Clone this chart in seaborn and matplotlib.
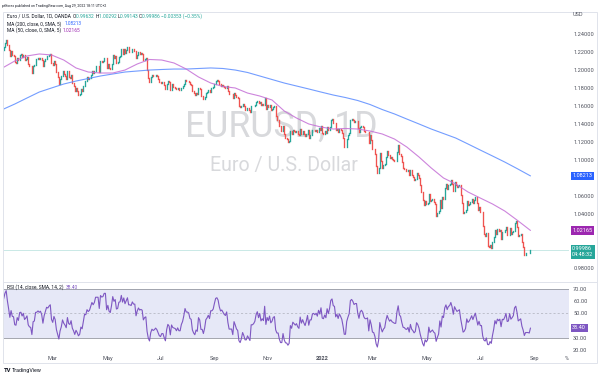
import numpy as np
import pandas as pd
import matplotlib
matplotlib.use("Agg")
import matplotlib.pyplot as plt
from matplotlib.lines import Line2D
from matplotlib.patches import Rectangle
import matplotlib.transforms as mtrans
import seaborn as sns

# ---------------- data (EUR/USD daily closes) ----------------
warmup_closes = [1.1925, 1.2070, 1.2115, 1.2145, 1.2120, 1.2105, 1.2105, 1.2080, 1.2135, 1.2110,
                 1.2145, 1.2150, 1.2195, 1.2270, 1.2255, 1.2240, 1.2150, 1.2185, 1.2185, 1.2215,
                 1.2250, 1.2295, 1.2215]
c2021_01 = [1.2214, 1.2249, 1.2298, 1.2326, 1.2270, 1.2219, 1.2152, 1.2207, 1.2158, 1.2155, 1.2080,
            1.2075, 1.2130, 1.2105, 1.2167, 1.2170, 1.2140, 1.2160, 1.2110, 1.2120, 1.2135]
c2021_02 = [1.2060, 1.2040, 1.2035, 1.1960, 1.2045, 1.2050, 1.2118, 1.2120, 1.2130, 1.2120, 1.2128,
            1.2105, 1.2040, 1.2090, 1.2120, 1.2155, 1.2150, 1.2165, 1.2175, 1.2075]
c2021_03 = [1.2050, 1.2090, 1.2065, 1.1970, 1.1915, 1.1845, 1.1900, 1.1930, 1.1985, 1.1950, 1.1930,
            1.1900, 1.1980, 1.1915, 1.1905, 1.1935, 1.1850, 1.1815, 1.1765, 1.1795, 1.1765, 1.1720, 1.1730]
c2021_04 = [1.1780, 1.1760, 1.1815, 1.1875, 1.1870, 1.1915, 1.1900, 1.1910, 1.1945, 1.1980, 1.1965,
            1.1985, 1.2035, 1.2035, 1.2035, 1.1970, 1.2095, 1.2085, 1.2090, 1.2125, 1.2125, 1.2020]
c2021_05 = [1.2060, 1.2015, 1.2005, 1.2065, 1.2165, 1.2130, 1.2150, 1.2075, 1.2080, 1.2145, 1.2150,
            1.2225, 1.2175, 1.2225, 1.2180, 1.2215, 1.2250, 1.2195, 1.2195, 1.2190, 1.2225]
c2021_06 = [1.2210, 1.2210, 1.2125, 1.2165, 1.2190, 1.2175, 1.2180, 1.2175, 1.2105, 1.2120, 1.2125,
            1.1995, 1.1905, 1.1860, 1.1915, 1.1940, 1.1925, 1.1930, 1.1940, 1.1925, 1.1895, 1.1860]
c2021_07 = [1.1850, 1.1865, 1.1865, 1.1825, 1.1790, 1.1845, 1.1875, 1.1860, 1.1775, 1.1835, 1.1810,
            1.1805, 1.1800, 1.1780, 1.1795, 1.1770, 1.1770, 1.1800, 1.1815, 1.1845, 1.1890, 1.1870]
c2021_08 = [1.1870, 1.1865, 1.1835, 1.1830, 1.1760, 1.1735, 1.1720, 1.1740, 1.1730, 1.1795, 1.1780,
            1.1710, 1.1710, 1.1675, 1.1700, 1.1745, 1.1755, 1.1770, 1.1750, 1.1795, 1.1795, 1.1805]
c2021_09 = [1.1840, 1.1875, 1.1880, 1.1870, 1.1840, 1.1820, 1.1825, 1.1815, 1.1805, 1.1800, 1.1815,
            1.1765, 1.1725, 1.1725, 1.1725, 1.1690, 1.1740, 1.1720, 1.1695, 1.1685, 1.1600, 1.1580]
c2021_10 = [1.1595, 1.1620, 1.1595, 1.1555, 1.1555, 1.1570, 1.1550, 1.1530, 1.1595, 1.1595, 1.1600,
            1.1610, 1.1640, 1.1655, 1.1625, 1.1645, 1.1605, 1.1615, 1.1605, 1.1680, 1.1560]
c2021_11 = [1.1605, 1.1580, 1.1610, 1.1555, 1.1565, 1.1590, 1.1595, 1.1480, 1.1445, 1.1445, 1.1370,
            1.1320, 1.1320, 1.1370, 1.1285, 1.1240, 1.1235, 1.1200, 1.1210, 1.1320, 1.1290, 1.1335]
c2021_12 = [1.1320, 1.1305, 1.1315, 1.1285, 1.1270, 1.1345, 1.1290, 1.1315, 1.1285, 1.1260, 1.1290,
            1.1330, 1.1240, 1.1280, 1.1280, 1.1325, 1.1330, 1.1320, 1.1330, 1.1310, 1.1350, 1.1325, 1.1370]
c2022_01 = [1.1295, 1.1290, 1.1315, 1.1295, 1.1360, 1.1325, 1.1365, 1.1440, 1.1455, 1.1410, 1.1405,
            1.1325, 1.1345, 1.1310, 1.1345, 1.1325, 1.1300, 1.1240, 1.1145, 1.1145, 1.1235]
c2022_02 = [1.1270, 1.1300, 1.1440, 1.1455, 1.1440, 1.1415, 1.1425, 1.1425, 1.1350, 1.1305, 1.1360,
            1.1375, 1.1360, 1.1320, 1.1305, 1.1305, 1.1310, 1.1190, 1.1270, 1.1220]
c2022_03 = [1.1125, 1.1120, 1.1065, 1.0930, 1.0855, 1.0905, 1.1075, 1.0985, 1.0910, 1.0940, 1.0955,
            1.1035, 1.1095, 1.1050, 1.1015, 1.1030, 1.1005, 1.0995, 1.0985, 1.0985, 1.1090, 1.1160, 1.1065]
c2022_04 = [1.1045, 1.0970, 1.0905, 1.0900, 1.0880, 1.0875, 1.0890, 1.0830, 1.0890, 1.0830, 1.0810,
            1.0780, 1.0790, 1.0855, 1.0835, 1.0795, 1.0715, 1.0640, 1.0555, 1.0500, 1.0545]
c2022_05 = [1.0505, 1.0520, 1.0620, 1.0540, 1.0550, 1.0560, 1.0530, 1.0515, 1.0380, 1.0410, 1.0435,
            1.0550, 1.0465, 1.0585, 1.0565, 1.0690, 1.0735, 1.0680, 1.0725, 1.0735, 1.0780, 1.0735]
c2022_06 = [1.0650, 1.0750, 1.0720, 1.0695, 1.0705, 1.0715, 1.0615, 1.0520, 1.0410, 1.0420, 1.0445,
            1.0545, 1.0495, 1.0510, 1.0535, 1.0565, 1.0520, 1.0555, 1.0585, 1.0520, 1.0445, 1.0480]
c2022_07 = [1.0425, 1.0425, 1.0265, 1.0180, 1.0160, 1.0185, 1.0040, 1.0035, 1.0060, 1.0020, 1.0085,
            1.0140, 1.0225, 1.0180, 1.0230, 1.0210, 1.0225, 1.0125, 1.0200, 1.0195, 1.0220]
c2022_08 = [1.0260, 1.0165, 1.0170, 1.0245, 1.0180, 1.0195, 1.0215, 1.0300, 1.0320, 1.0260, 1.0160,
            1.0170, 1.0180, 1.0090, 1.0035, 0.9945, 0.9970, 0.9970, 0.9970, 0.99632, 0.99986]

# moving averages every 10 bars (last point = last bar)
ma_bar_step = 10
ma200_values = [1.1557, 1.1618, 1.1685, 1.1751, 1.1796, 1.1840, 1.1873, 1.1901, 1.1929, 1.1951,
                1.1973, 1.1984, 1.1995, 1.2001, 1.2006, 1.2006, 1.2012, 1.2018, 1.2012, 1.1995,
                1.1968, 1.1929, 1.1890, 1.1851, 1.1818, 1.1785, 1.1751, 1.1718, 1.1690, 1.1657,
                1.1613, 1.1557, 1.1508, 1.1452, 1.1397, 1.1341, 1.1291, 1.1241, 1.1175, 1.1108,
                1.1042, 1.0975, 1.0903, 1.08213]
ma50_values = [1.2018, 1.2095, 1.2151, 1.2173, 1.2162, 1.2106, 1.2018, 1.1973, 1.1962, 1.1962,
               1.1995, 1.2062, 1.2112, 1.2106, 1.2073, 1.2006, 1.1918, 1.1851, 1.1812, 1.1796,
               1.1740, 1.1707, 1.1663, 1.1541, 1.1463, 1.1397, 1.1363, 1.1341, 1.1347, 1.1341,
               1.1319, 1.1286, 1.1230, 1.1142, 1.1031, 1.0909, 1.0798, 1.0731, 1.0643, 1.0576,
               1.0510, 1.0432, 1.0332, 1.02165]

price_ticks = [1.24, 1.22, 1.20, 1.18, 1.16, 1.14, 1.12, 1.10, 1.06, 1.04, 0.98]
rsi_ticks = [70, 60, 50, 30, 20]
tick_dates = ["2021-03-01", "2021-05-03", "2021-07-01", "2021-09-01", "2021-11-01",
              "2022-01-03", "2022-03-01", "2022-05-02", "2022-07-01", "2022-09-01"]
tick_labels = ["Mar", "May", "Jul", "Sep", "Nov", "2022", "Mar", "May", "Jul", "Sep"]

header = "ptlforex published on TradingView.com, Aug 29, 2022 18:11 UTC+2"
title_name = "Euro / U.S. Dollar, 1D, OANDA"
ohlc_text = [("O", "0.99632"), ("H", "1.00292"), ("L", "0.99143"), ("C", "0.99986")]
change_text = "\u22120.00353 (\u22120.35%)"
ma200_label, ma200_last = "MA (200, close, 0, SMA, 5)", "1.08213"
ma50_label, ma50_last = "MA (50, close, 0, SMA, 5)", "1.02165"
rsi_label, rsi_last = "RSI (14, close, SMA, 14, 2)", "38.40"
countdown = "04:48:32"

# ---------------- derived frame ----------------
closes = np.array(c2021_01 + c2021_02 + c2021_03 + c2021_04 + c2021_05 + c2021_06 + c2021_07 +
                  c2021_08 + c2021_09 + c2021_10 + c2021_11 + c2021_12 + c2022_01 + c2022_02 +
                  c2022_03 + c2022_04 + c2022_05 + c2022_06 + c2022_07 + c2022_08)
n = len(closes)
opens = np.r_[warmup_closes[-1], closes[:-1]]
bars = np.arange(n)
dates = pd.bdate_range("2021-01-01", periods=n)

allc = pd.Series(np.r_[warmup_closes, closes])
d = allc.diff().fillna(0)
ag = d.clip(lower=0).ewm(alpha=1 / 14, adjust=False).mean()
al = (-d.clip(upper=0)).ewm(alpha=1 / 14, adjust=False).mean()
rsi = (100 - 100 / (1 + ag / al)).to_numpy()[-n:]

ma_bars = np.r_[np.arange(0, ma_bar_step * (len(ma200_values) - 1), ma_bar_step)[:len(ma200_values) - 1], n - 1]
df_ma = pd.DataFrame({"bar": ma_bars, "ma200": ma200_values, "ma50": ma50_values})
df_rsi = pd.DataFrame({"bar": bars, "rsi": rsi})

def date_pos(s):
    t = pd.Timestamp(s)
    if t <= dates[-1]:
        return int(dates.searchsorted(t))
    return n - 1 + int(np.busday_count(dates[-1].date(), t.date()))

tick_pos = [date_pos(s) for s in tick_dates]

# ---------------- style ----------------
sns.set_theme(style="white")
plt.rcParams['font.family'] = ['Roboto', 'DejaVu Sans']
plt.rcParams['axes.unicode_minus'] = False

UP, DOWN = "#26a69a", "#ef5350"
TXT = "#131722"
SCALE = "#50535e"
BORDER = "#e0e3eb"

W, H = 600, 378
fig = plt.figure(figsize=(W / 100, H / 100), dpi=100)
fig.patch.set_facecolor("white")
renderer = fig.canvas.get_renderer()

def fx(px):
    return px / W

def fy(py):
    return 1 - py / H

PLOT_L, PLOT_R = 3, 569
ax = fig.add_axes([fx(PLOT_L), fy(282), fx(PLOT_R) - fx(PLOT_L), fy(12) - fy(282)])
rax = fig.add_axes([fx(PLOT_L), fy(352), fx(PLOT_R) - fx(PLOT_L), fy(282) - fy(352)])
for a in (ax, rax):
    a.set_facecolor("none")
    for s in a.spines.values():
        s.set_visible(False)
    a.set_xlim(0.41, 462.45)
    a.grid(False)

ax.set_ylim(0.9645, 1.26384)
rax.set_ylim(18.57, 75.71)

# watermark
def fit_text(a, x, y, s, target_w, **kw):
    t = a.text(x, y, s, fontsize=10, **kw)
    w = t.get_window_extent(renderer).width
    t.set_fontsize(10 * target_w / w)
    return t

fit_text(ax, (281 - PLOT_L) / 566, (282 - 127) / 270, "EURUSD, 1D", 192, transform=ax.transAxes,
         ha="center", va="center", color="#d8d9dc", zorder=0)
fit_text(ax, (284 - PLOT_L) / 566, (282 - 166) / 270, "Euro / U.S. Dollar", 148, transform=ax.transAxes,
         ha="center", va="center", color="#d8d9dc", zorder=0)

# candles
up = closes >= opens
ax.vlines(bars[up], opens[up], closes[up], color=UP, lw=0.95, capstyle="projecting", zorder=3)
ax.vlines(bars[~up], opens[~up], closes[~up], color=DOWN, lw=0.95, capstyle="projecting", zorder=3)

# moving averages
sns.lineplot(data=df_ma, x="bar", y="ma200", ax=ax, color="#5b8cff", lw=0.8, alpha=0.85, zorder=4)
sns.lineplot(data=df_ma, x="bar", y="ma50", ax=ax, color="#c46fd6", lw=0.8, alpha=0.85, zorder=4)
ax.axhline(closes[-1], color=UP, lw=0.5, alpha=0.35, zorder=2)

# RSI pane
rax.axhspan(30, 70, color="#e6e8f7", lw=0, zorder=0)
rax.axhline(70, color="#9598a1", lw=0.6, zorder=1)
rax.axhline(30, color="#9598a1", lw=0.6, zorder=1)
rax.axhline(50, color="#9598a1", lw=0.5, ls=(0, (3, 3)), alpha=0.7, zorder=1)
sns.lineplot(data=df_rsi, x="bar", y="rsi", ax=rax, color="#7e57c2", lw=0.8, zorder=3)

# axes labels / ticks
for a in (ax, rax):
    a.set_xlabel("")
    a.set_ylabel("")
    a.yaxis.tick_right()
ax.set_yticks(price_ticks)
ax.set_yticklabels([f"{v:.5f}" for v in price_ticks])
rax.set_yticks(rsi_ticks)
rax.set_yticklabels([f"{v:.2f}" for v in rsi_ticks])
ax.set_xticks([])
rax.set_xticks(tick_pos)
rax.set_xticklabels(tick_labels)
for lab in rax.get_xticklabels():
    if lab.get_text().isdigit():
        lab.set_fontweight("bold")
for a in (ax, rax):
    a.tick_params(axis="y", length=0, pad=3, labelsize=4.1, labelcolor=SCALE)
    a.tick_params(axis="x", length=0, pad=3.2, labelsize=4.1, labelcolor=SCALE)

# price labels on the scale
blend_main = mtrans.blended_transform_factory(ax.transAxes, ax.transData)
blend_rsi = mtrans.blended_transform_factory(rax.transAxes, rax.transData)

def scale_box(a, tr, y, s, fc, va="center", dy=0):
    a.annotate(s, xy=(1.0, y), xycoords=tr, xytext=(2.3, dy), textcoords="offset points",
               ha="left", va=va, fontsize=4.0, color="white", linespacing=1.25,
               bbox=dict(boxstyle="square,pad=0.3", fc=fc, ec="none"),
               annotation_clip=False, zorder=10)

scale_box(ax, blend_main, float(ma200_last), ma200_last, "#2962ff")
scale_box(ax, blend_main, float(ma50_last), ma50_last, "#9c27b0")
scale_box(ax, blend_main, closes[-1], f"{ohlc_text[3][1]}\n{countdown}", UP, va="top", dy=2.6)
scale_box(rax, blend_rsi, float(rsi_last), rsi_last, "#7e57c2")

fig.text(fx(573), fy(15), "USD", fontsize=4.0, color=SCALE, ha="left", va="center")
fig.text(fx(565), fy(358), "%", fontsize=4.0, color=SCALE, ha="left", va="center")

# legends with coloured segments
def seg_line(x_px, y_px, parts, target_w):
    texts = [fig.text(0, fy(y_px), s, color=c, fontsize=10, ha="left", va="center") for s, c in parts]
    widths = [t.get_window_extent(renderer).width for t in texts]
    scale = target_w / sum(widths)
    x = x_px
    for t, w in zip(texts, widths):
        t.set_fontsize(10 * scale)
        t.set_x(fx(x))
        x += w * scale

parts1 = [(title_name + "  ", TXT)]
for k, v in ohlc_text:
    parts1 += [(k, TXT), (v + " ", UP)]
parts1 += [(change_text, UP)]
seg_line(7, 16, parts1, 195)
seg_line(7, 23.7, [(ma200_label + "  ", TXT), (ma200_last, "#2962ff")], 75)
seg_line(7, 30.5, [(ma50_label + "  ", TXT), (ma50_last, "#9c27b0")], 73)
seg_line(7, 287.5, [(rsi_label + "  ", TXT), (rsi_last, "#7e57c2")], 71)

t = fig.text(fx(2), fy(5.5), header, fontsize=10, color=TXT, ha="left", va="center")
t.set_fontsize(10 * 105 / t.get_window_extent(renderer).width)

fig.text(fx(4), fy(370.5), "TV", fontsize=4.2, fontweight="bold", color=TXT, ha="left", va="center")
t = fig.text(fx(12), fy(370.5), "TradingView", fontsize=10, color=TXT, ha="left", va="center")
t.set_fontsize(10 * 30 / t.get_window_extent(renderer).width)

# frame and pane separator
fig.add_artist(Rectangle((fx(3), fy(363)), fx(597) - fx(3), fy(12) - fy(363), transform=fig.transFigure,
                         fill=False, ec=BORDER, lw=0.7))
fig.add_artist(Line2D([fx(3), fx(597)], [fy(282), fy(282)], transform=fig.transFigure, color=BORDER, lw=0.7))

fig.savefig("out.png", dpi=100, facecolor="white")
